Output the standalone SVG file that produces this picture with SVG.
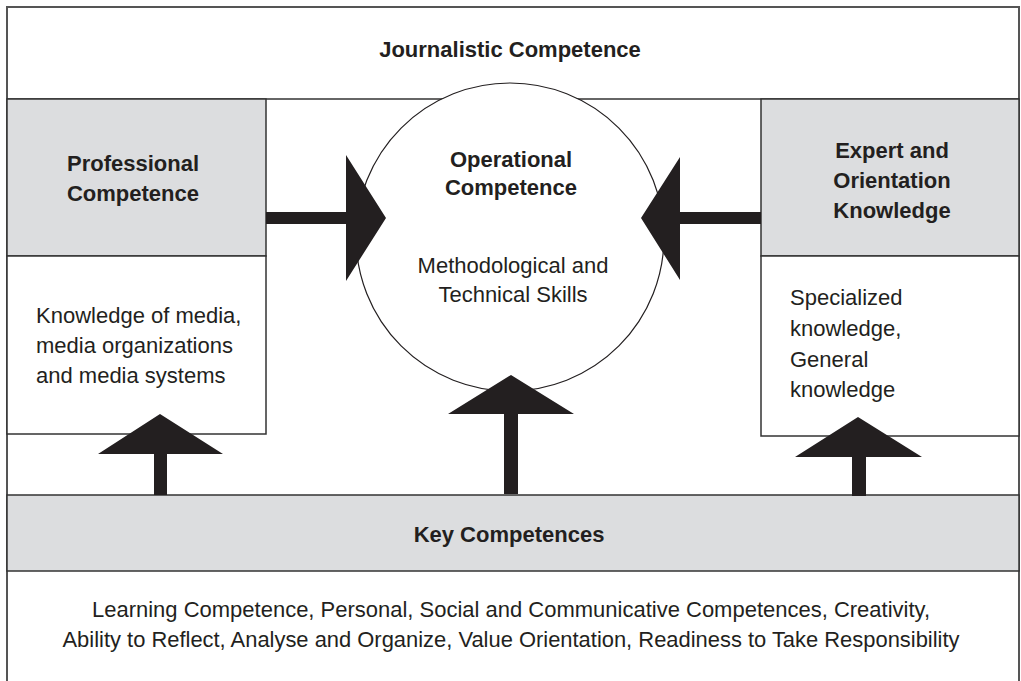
<svg xmlns="http://www.w3.org/2000/svg" width="1021" height="681" viewBox="0 0 1021 681">
<style>
.frame{fill:#fff;stroke:#555;stroke-width:2}
.box{stroke:#333;stroke-width:1.5}
.gray{fill:#dcdddf}
.white{fill:#fff}
.arrow{fill:#231f20;stroke:none}
text{font-family:"Liberation Sans",Arial,sans-serif;fill:#231f20}
.b{font-weight:bold;font-size:22px}
.r{font-size:22px}
</style>
<rect x="0" y="0" width="1021" height="681" fill="#fff"/>
<g id="journalistic">
<rect class="frame" x="7" y="7" width="1012" height="690"/>
<line class="box" x1="7" y1="99" x2="1019" y2="99"/>
<text class="b" x="510" y="57" text-anchor="middle">Journalistic Competence</text>
</g>
<g id="professional">
<rect class="box gray" x="7" y="99" width="259" height="157"/>
<text class="b" x="133" y="170.5" text-anchor="middle">Professional</text>
<text class="b" x="133" y="201" text-anchor="middle">Competence</text>
</g>
<g id="media-knowledge">
<rect class="box white" x="7" y="256" width="259" height="178"/>
<text class="r" x="36" y="322.5">Knowledge of media,</text>
<text class="r" x="36" y="353">media organizations</text>
<text class="r" x="36" y="383">and media systems</text>
</g>
<g id="expert">
<rect class="box gray" x="761" y="99" width="258" height="157"/>
<text class="b" x="892" y="158" text-anchor="middle">Expert and</text>
<text class="b" x="892" y="188" text-anchor="middle">Orientation</text>
<text class="b" x="892" y="218" text-anchor="middle">Knowledge</text>
</g>
<g id="specialized">
<rect class="box white" x="761" y="256" width="258" height="180"/>
<text class="r" x="790" y="305">Specialized</text>
<text class="r" x="790" y="336">knowledge,</text>
<text class="r" x="790" y="366.5">General</text>
<text class="r" x="790" y="396.5">knowledge</text>
</g>
<g id="operational">
<circle cx="510" cy="237" r="154" fill="#fff" stroke="#231f20" stroke-width="1.2"/>
<text class="b" x="511" y="167" text-anchor="middle">Operational</text>
<text class="b" x="511" y="195" text-anchor="middle">Competence</text>
<text class="r" x="513" y="272.5" text-anchor="middle">Methodological and</text>
<text class="r" x="513" y="301.5" text-anchor="middle">Technical Skills</text>
</g>
<g id="key">
<rect class="box gray" x="7" y="495" width="1012" height="76"/>
<text class="b" x="509" y="541.5" text-anchor="middle">Key Competences</text>
<text class="r" x="511" y="616.5" text-anchor="middle" textLength="838" lengthAdjust="spacingAndGlyphs">Learning Competence, Personal, Social and Communicative Competences, Creativity,</text>
<text class="r" x="511" y="646.5" text-anchor="middle" textLength="897" lengthAdjust="spacingAndGlyphs">Ability to Reflect, Analyse and Organize, Value Orientation, Readiness to Take Responsibility</text>
</g>
<g id="connectors">
<polygon class="arrow" points="266,212 346,212 346,155 386,218 346,281 346,224 266,224"/>
<polygon class="arrow" points="761,212 680,212 680,157 641,218 680,280 680,224 761,224"/>
<polygon class="arrow" points="154,495 154,454 98,454 160,414 223,454 167,454 167,495"/>
<polygon class="arrow" points="504,494 504,414 448,414 511,375 574,414 518,414 518,494"/>
<polygon class="arrow" points="852,496 852,457 795,457 858,417 922,457 866,457 866,496"/>
</g>
</svg>
